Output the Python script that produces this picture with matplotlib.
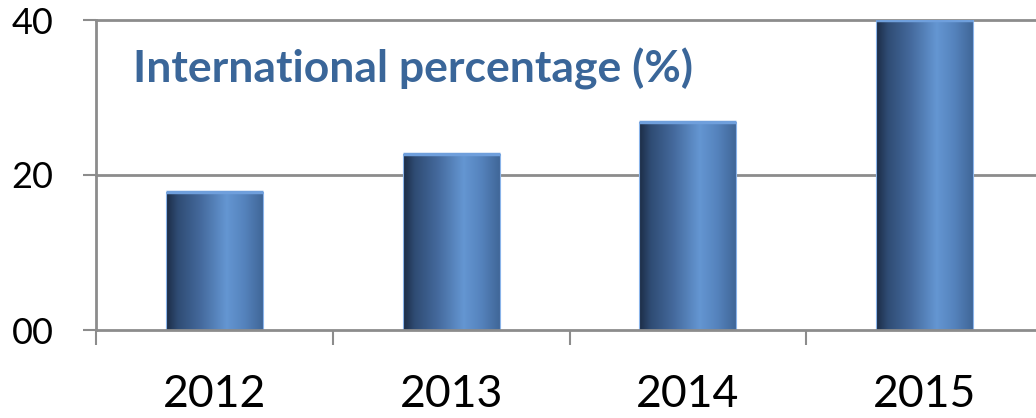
import numpy as np
import matplotlib.pyplot as plt
from matplotlib.colors import LinearSegmentedColormap

# Chart data
years = ['2012', '2013', '2014', '2015']
percent = [17.8, 22.7, 26.9, 40.0]
y_ticks = [0, 20, 40]
y_labels = ['00', '20', '40']
title = 'International percentage (%)'

plt.rcParams['font.family'] = ['Lato', 'DejaVu Sans']

fig = plt.figure(figsize=(10.36, 4.18), dpi=100)
ax = fig.add_axes([96 / 1036, 88 / 418, 947 / 1036, 310 / 418])
ax.set_xlim(-0.5, 3.5)
ax.set_ylim(0, 40)

# cylinder-like shading, dark left -> light -> darker right
shade = LinearSegmentedColormap.from_list('cyl', [
    (0.00, '#1c2c45'),
    (0.12, '#2f4c74'),
    (0.35, '#44699c'),
    (0.62, '#6496d2'),
    (0.80, '#5583bd'),
    (1.00, '#3f6596'),
])
grad = np.linspace(0, 1, 256).reshape(1, -1)

bars = ax.bar(range(len(years)), percent, width=0.41, color='none',
              edgecolor='#8ab4ea', linewidth=0.8, zorder=3)
for b in bars:
    x0, w, h = b.get_x(), b.get_width(), b.get_height()
    im = ax.imshow(grad, cmap=shade, extent=[x0, x0 + w, 0, h],
                   aspect='auto', zorder=2, interpolation='bilinear')
    im.set_clip_path(b)
    ax.plot([x0, x0 + w], [h, h], color='#6f9fdc', lw=2.5, zorder=4,
            solid_capstyle='butt')

# grid and axes
for y in y_ticks[1:]:
    ax.axhline(y, color='#8c8c8c', lw=2, zorder=1, clip_on=False)
for s in ['top', 'right']:
    ax.spines[s].set_visible(False)
for s in ['left', 'bottom']:
    ax.spines[s].set_color('#8c8c8c')
    ax.spines[s].set_linewidth(2)
ax.spines['bottom'].set_zorder(5)

ax.set_yticks(y_ticks)
ax.set_yticklabels(y_labels, fontsize=26)
ax.tick_params(axis='y', length=9.5, width=1.5, color='#8c8c8c', pad=21)

ax.set_xticks(range(len(years)))
ax.set_xticklabels(years, fontsize=32)
ax.set_xticks(np.arange(-0.5, len(years), 1.0), minor=True)
ax.tick_params(axis='x', which='major', length=0, pad=32)
ax.tick_params(axis='x', which='minor', length=11, width=1.5, color='#8c8c8c')

ax.text(0.039, 31.9, title, transform=ax.get_yaxis_transform(),
        fontsize=32, fontweight='bold', color='#3a6699', va='baseline')

fig.savefig('out.png', dpi=100)
